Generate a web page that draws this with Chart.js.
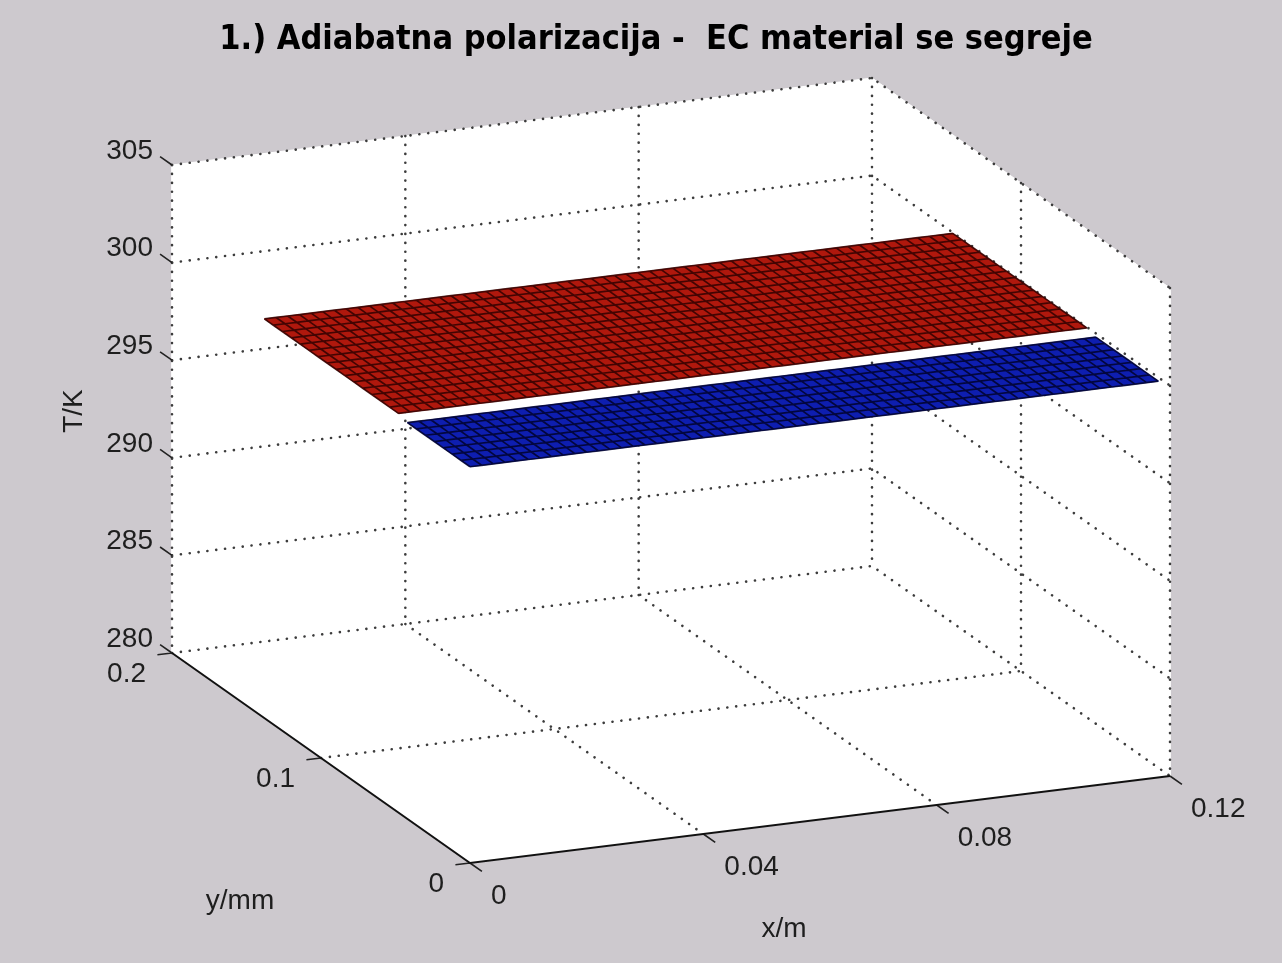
<!DOCTYPE html>
<html>
<head>
<meta charset="utf-8">
<title>Adiabatna polarizacija</title>
<script src="https://cdn.jsdelivr.net/npm/chart.js@4.4.1/dist/chart.umd.min.js"></script>
<style>
  html, body { margin: 0; padding: 0; background: #cdc9ce; }
  #okvir { width: 1282px; height: 963px; position: relative; }
</style>
</head>
<body>
<div id="okvir"><canvas id="graf"></canvas></div>
<script>
"use strict";

// oznake na oseh
var xTicks = [0, 0.04, 0.08, 0.12];
var yTicks = [0, 0.1, 0.2];
var zTicks = [280, 285, 290, 295, 300, 305];

// mreza (x/m)
var xMreza = [
  0, 0.002, 0.004, 0.006, 0.008, 0.01, 0.012, 0.014, 0.016, 0.018,
  0.02, 0.022, 0.024, 0.026, 0.028, 0.03, 0.032, 0.034, 0.036, 0.038,
  0.04, 0.042, 0.044, 0.046, 0.048, 0.05, 0.052, 0.054, 0.056, 0.058,
  0.06, 0.062, 0.064, 0.066, 0.068, 0.07, 0.072, 0.074, 0.076, 0.078,
  0.08, 0.082, 0.084, 0.086, 0.088, 0.09, 0.092, 0.094, 0.096, 0.098,
  0.1, 0.102, 0.104, 0.106, 0.108, 0.11, 0.112, 0.114, 0.116, 0.118,
];
// vrstice (y/mm) in temperatura T/K v vsaki vrstici
var yModra = [0, 0.006, 0.012, 0.018, 0.024, 0.03, 0.036, 0.042];
var tModra = [300.3, 300.3, 300.3, 300.3, 300.3, 300.3, 300.3, 300.3];
var yRdeca = [
  0.048, 0.054, 0.06, 0.066, 0.072, 0.078, 0.084, 0.09,
  0.096, 0.102, 0.108, 0.114, 0.12, 0.126, 0.132, 0.138,
];
var tRdeca = [
  300.45, 300.45, 300.45, 300.45, 300.45, 300.45, 300.45, 300.45,
  300.45, 300.45, 300.45, 300.45, 300.45, 300.45, 300.45, 300.45,
];

var naslov = "1.) Adiabatna polarizacija -  EC material se segreje";

// pogled (3D -> 2D), tocka (0, 0, 280) je spodnji sprednji vogal
var pogled = {
  ox: 470, oy: 863,
  xdx: 700 / 0.12, xdy: -87 / 0.12,
  ydx: -298 / 0.2, ydy: -210 / 0.2,
  zdy: -488 / 25,
};
var xMin = 0, xMax = 0.12, yMin = 0, yMax = 0.2, zMin = 280, zMax = 305;

function p(x, y, z) {
  return {
    x: pogled.ox + x * pogled.xdx + y * pogled.ydx,
    y: pogled.oy + x * pogled.xdy + y * pogled.ydy + (z - zMin) * pogled.zdy,
  };
}
var PRAZNO = { x: NaN, y: NaN };

function crta(tocke, opt) {
  return Object.assign(
    { data: tocke, showLine: true, pointRadius: 0, pointHoverRadius: 0, borderWidth: 1, fill: false, tension: 0 },
    opt
  );
}
function lik(tocke, barva, red) {
  return crta(tocke.concat([tocke[0]]), {
    fill: "shape", backgroundColor: barva, borderColor: barva, borderWidth: 1, order: red,
  });
}
function pika(tocke) {
  return crta(tocke, {
    borderColor: "#3c3c3c", borderWidth: 2.6, borderDash: [0.1, 8.8], borderCapStyle: "round", order: 40,
  });
}

var datasets = [];

// ozadje: zadnji steni in tla
datasets.push(lik([p(xMin, yMax, zMin), p(xMax, yMax, zMin), p(xMax, yMax, zMax), p(xMin, yMax, zMax)], "#ffffff", 50));
datasets.push(lik([p(xMax, yMin, zMin), p(xMax, yMax, zMin), p(xMax, yMax, zMax), p(xMax, yMin, zMax)], "#ffffff", 50));
datasets.push(lik([p(xMin, yMin, zMin), p(xMax, yMin, zMin), p(xMax, yMax, zMin), p(xMin, yMax, zMin)], "#ffffff", 50));

// pikcasta mreza (vsaka crta samo enkrat)
zTicks.forEach(function (z) {
  datasets.push(pika([p(xMin, yMax, z), p(xMax, yMax, z), p(xMax, yMin, z)]));
});
xTicks.forEach(function (x) {
  datasets.push(pika([p(x, yMax, zMax), p(x, yMax, zMin)]));
  if (x > xMin && x < xMax) datasets.push(pika([p(x, yMax, zMin), p(x, yMin, zMin)]));
});
yTicks.forEach(function (y) {
  if (y < yMax) datasets.push(pika([p(xMax, y, zMax), p(xMax, y, zMin)]));
  if (y > yMin && y < yMax) datasets.push(pika([p(xMin, y, zMin), p(xMax, y, zMin)]));
});

// povrsina
function povrsina(yv, tv, barva, crte) {
  var n = yv.length, m = xMreza.length;
  var rob = [];
  for (var j = 0; j < m; j++) rob.push(p(xMreza[j], yv[0], tv[0]));
  for (var i = 1; i < n; i++) rob.push(p(xMreza[m - 1], yv[i], tv[i]));
  for (var j2 = m - 2; j2 >= 0; j2--) rob.push(p(xMreza[j2], yv[n - 1], tv[n - 1]));
  for (var i2 = n - 2; i2 > 0; i2--) rob.push(p(xMreza[0], yv[i2], tv[i2]));
  datasets.push(lik(rob, barva, 20));

  var mreza = [];
  for (var a = 0; a < n; a++) {
    for (var b = 0; b < m; b++) mreza.push(p(xMreza[b], yv[a], tv[a]));
    mreza.push(PRAZNO);
  }
  for (var c = 0; c < m; c++) {
    for (var d = 0; d < n; d++) mreza.push(p(xMreza[c], yv[d], tv[d]));
    mreza.push(PRAZNO);
  }
  datasets.push(crta(mreza, { borderColor: crte, borderWidth: 1.7, order: 10 }));
}
povrsina(yModra, tModra, "#0e1eb0", "rgba(0,0,35,0.8)");
povrsina(yRdeca, tRdeca, "#b0180d", "rgba(40,0,0,0.8)");

// osi in crtice
datasets.push(crta([p(xMin, yMax, zMin), p(xMin, yMin, zMin), p(xMax, yMin, zMin)], { borderColor: "#111", borderWidth: 2, order: 1 }));
var crtice = [];
xTicks.forEach(function (x) { crtice.push(p(x, yMin, zMin), p(x, yMin - 0.008, zMin), PRAZNO); });
yTicks.forEach(function (y) { crtice.push(p(xMin, y, zMin), p(xMin - 0.0025, y, zMin), PRAZNO); });
zTicks.forEach(function (z) { crtice.push(p(xMin, yMax, z), p(xMin, yMax + 0.008, z), PRAZNO); });
datasets.push(crta(crtice, { borderColor: "#222", borderWidth: 1.6, order: 1 }));

// napisi
var napisi = {
  id: "napisi",
  afterDraw: function (chart) {
    var ctx = chart.ctx;
    ctx.save();
    ctx.fillStyle = "#1e1e1e";
    ctx.textBaseline = "middle";
    ctx.font = '28px "Liberation Sans", Arial, sans-serif';

    ctx.textAlign = "right";
    zTicks.forEach(function (z) {
      var t = p(xMin, yMax, z);
      ctx.fillText(String(z), t.x - 19, t.y - 14);
    });
    yTicks.forEach(function (y) {
      var t = p(xMin, y, zMin);
      ctx.fillText(String(y), t.x - 26, t.y + 21);
    });
    ctx.textAlign = "left";
    xTicks.forEach(function (x) {
      var t = p(x, yMin, zMin);
      ctx.fillText(String(x), t.x + 21, t.y + 33);
    });

    ctx.textAlign = "center";
    var sx = p((xMin + xMax) / 2, yMin, zMin);
    ctx.fillText("x/m", sx.x - 36, sx.y + 110);
    var sy = p(xMin, (yMin + yMax) / 2, zMin);
    ctx.fillText("y/mm", sy.x - 81, sy.y + 143);
    var sz = p(xMin, yMax, (zMin + zMax) / 2);
    ctx.save();
    ctx.translate(sz.x - 98, sz.y + 2);
    ctx.rotate(-Math.PI / 2);
    ctx.fillText("T/K", 0, 0);
    ctx.restore();

    ctx.fillStyle = "#000";
    ctx.font = 'bold 34px "DejaVu Sans Condensed", "DejaVu Sans", sans-serif';
    ctx.fillText(naslov, 656, 40);
    ctx.restore();
  },
};

var graf = new Chart(document.getElementById("graf"), {
  type: "scatter",
  data: { datasets: datasets },
  options: {
    responsive: true,
    maintainAspectRatio: false,
    animation: false,
    events: [],
    layout: { padding: 0 },
    scales: {
      x: { type: "linear", display: false, min: 0, max: 1282 },
      y: { type: "linear", display: false, min: 0, max: 963, reverse: true },
    },
    plugins: {
      legend: { display: false },
      tooltip: { enabled: false },
      title: { display: false },
    },
  },
  plugins: [napisi],
});
</script>
</body>
</html>
